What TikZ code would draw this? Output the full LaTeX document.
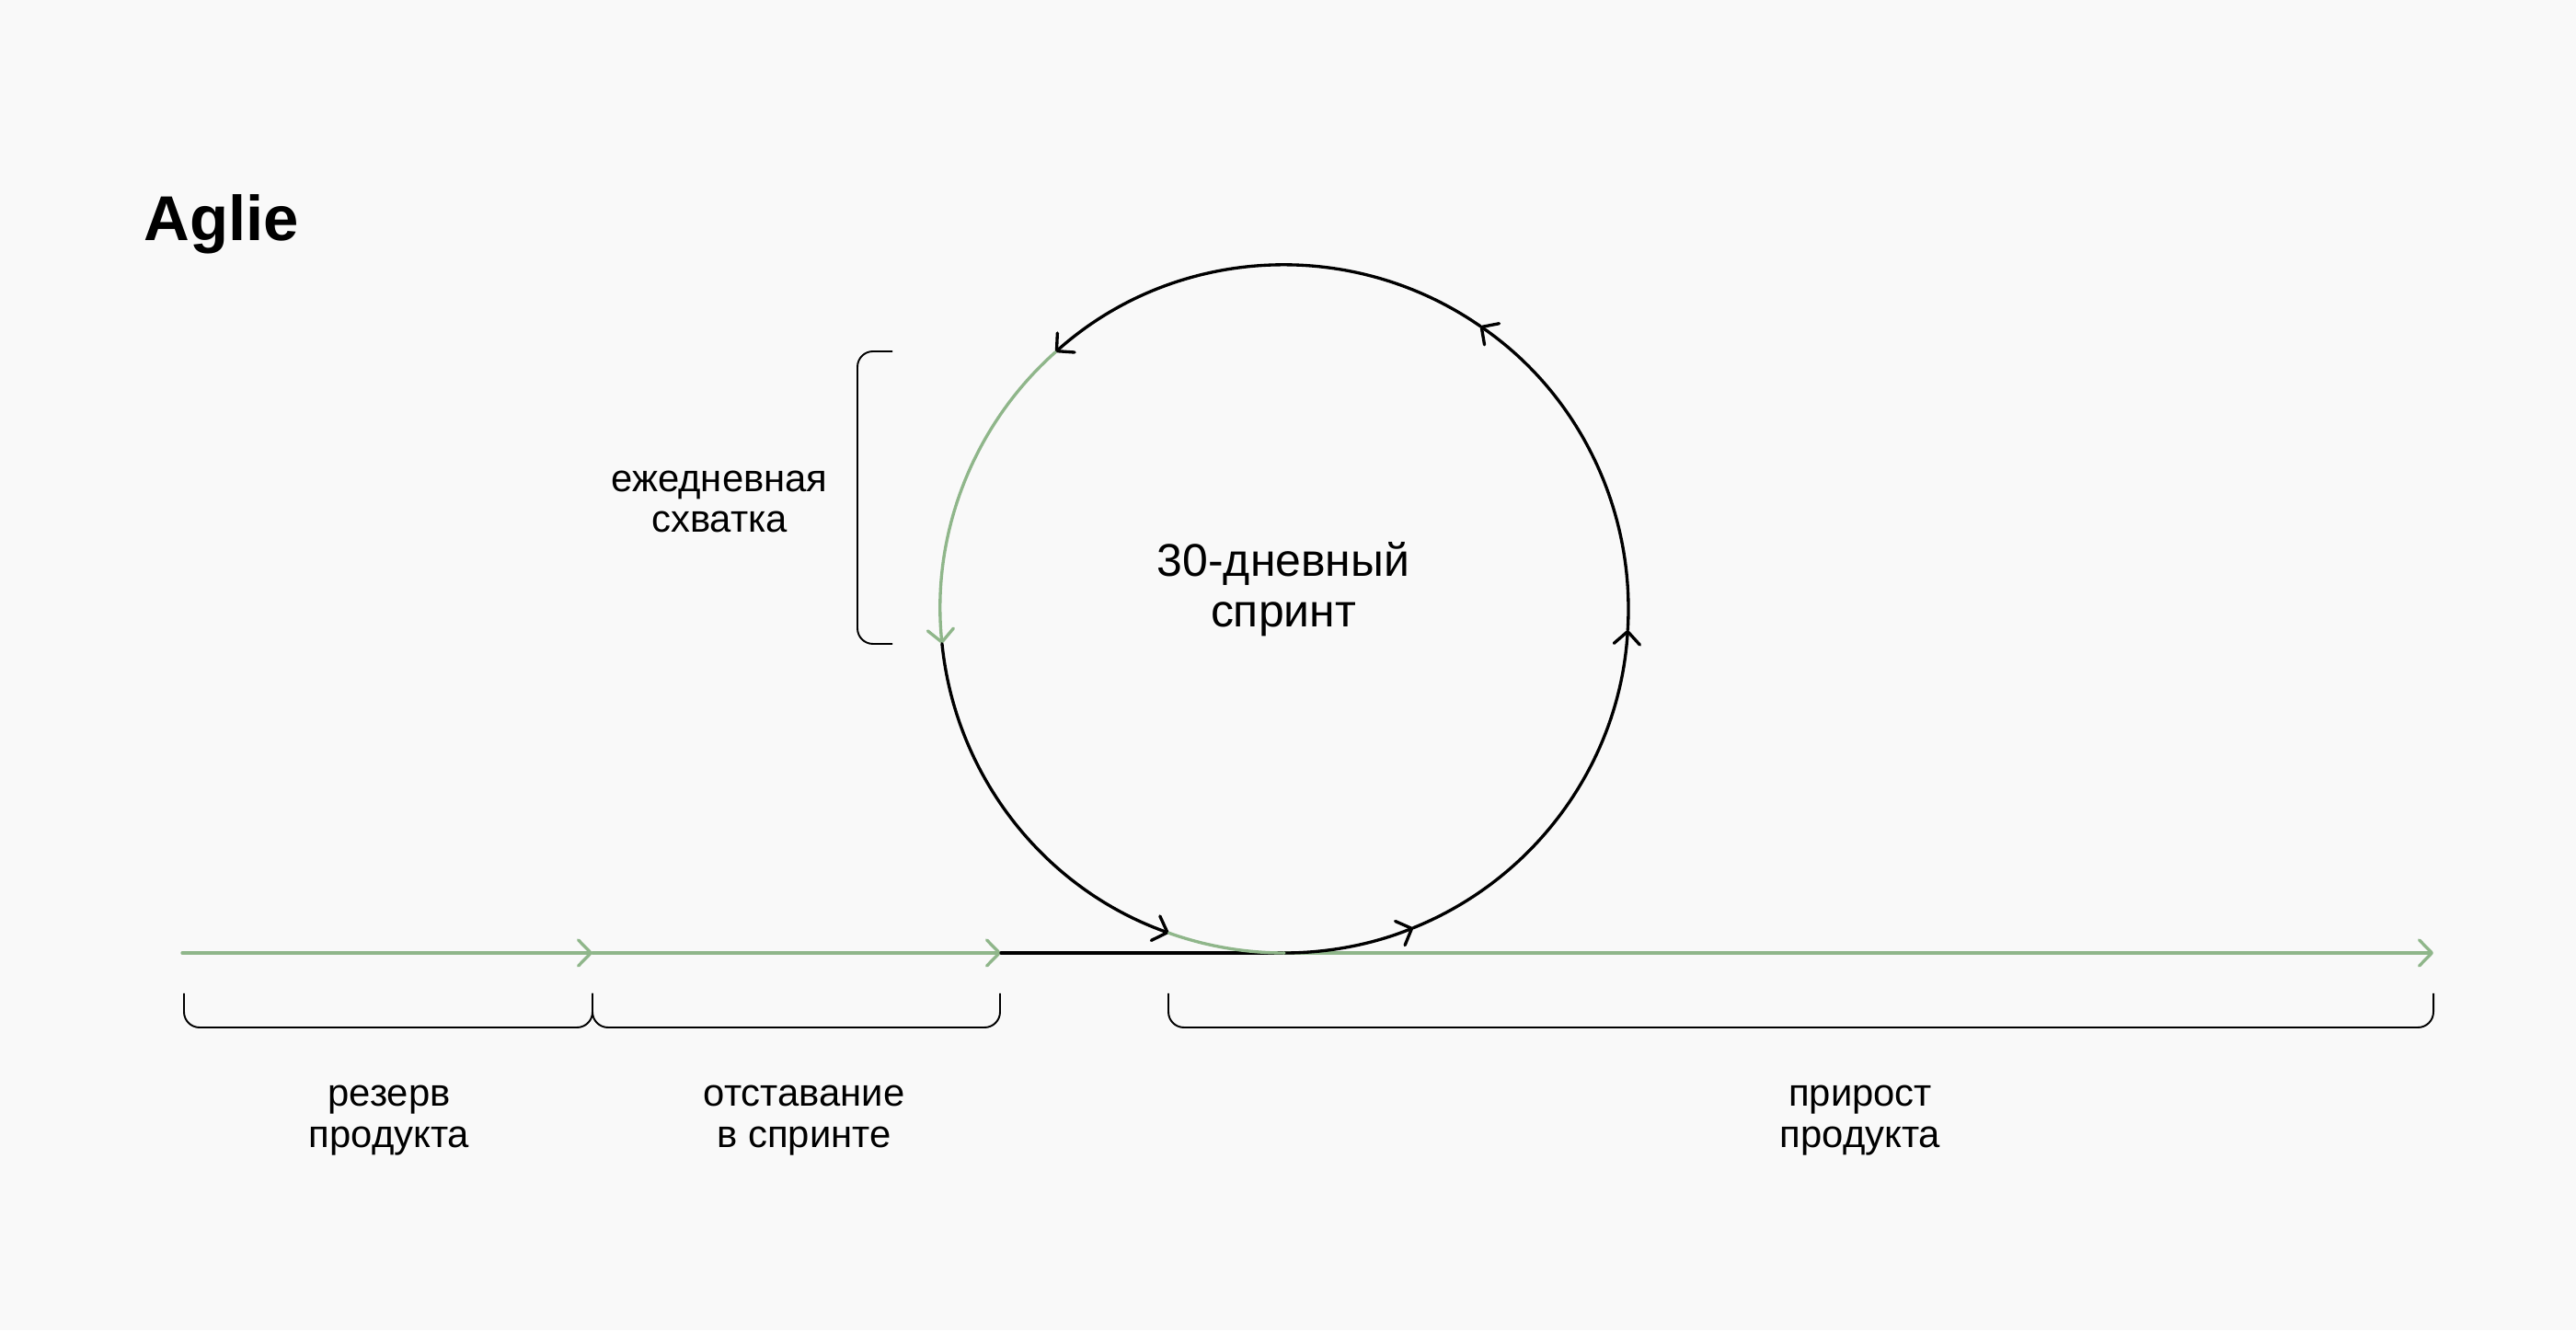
\documentclass[tikz,border=0pt]{standalone}
\usepackage{fontspec}
\setmainfont{Liberation Sans}
\usetikzlibrary{arrows.meta}

\definecolor{bg}{HTML}{F9F9F9}
\definecolor{sage}{HTML}{8FB68A}

\tikzset{
	barb/.style={-{Straight Barb[length=3.9pt, width=8pt, round]}},
	curve/.style={line width=0.95pt, line cap=round},
	brace/.style={line width=0.55pt, rounded corners=4.8pt},
	lbl/.style={align=center, font=\fontsize{11.9}{12.6}\selectfont, inner sep=0pt},
}

\def\sprintr{3.74}

\begin{document}
\begin{tikzpicture}
	\fill[bg] (0,0) rectangle (28,14.46);
	\useasboundingbox (0,0) rectangle (28,14.46);

	%% Titel
	\node[anchor=base west, inner sep=0pt, font=\fontsize{19.6}{22}\selectfont\bfseries] (title) at (1.56,11.84) {Aglie};

	%% Zeitachse
	\coordinate (start) at (1.98,4.10);
	\coordinate (backlog) at (6.44,4.10);
	\coordinate (sprintlog) at (10.88,4.10);
	\coordinate (touch) at (13.96,4.10);
	\coordinate (end) at (26.45,4.10);
	\draw[curve, sage, barb] (start) -- (backlog);
	\draw[curve, sage, barb] (backlog) -- (sprintlog);
	\draw[curve] (sprintlog) -- (touch);
	\draw[curve, sage, barb] (touch) -- (end);
	%%%%%%%%%%%%%%%%

	%% Sprint-Kreis
	\coordinate (c) at (13.96,7.84);
	\draw[curve, barb] ([shift={(270:\sprintr)}]c) arc[start angle=270, end angle=292, radius=\sprintr];
	\draw[curve, barb] ([shift={(292:\sprintr)}]c) arc[start angle=292, end angle=356.5, radius=\sprintr];
	\draw[curve, barb] ([shift={(356.5:\sprintr)}]c) arc[start angle=356.5, end angle=415.3, radius=\sprintr];
	\draw[curve, barb] ([shift={(415.3:\sprintr)}]c) arc[start angle=415.3, end angle=491.7, radius=\sprintr];
	\draw[curve, sage, barb] ([shift={(491.7:\sprintr)}]c) arc[start angle=491.7, end angle=545.8, radius=\sprintr];
	\draw[curve, barb] ([shift={(545.8:\sprintr)}]c) arc[start angle=545.8, end angle=610.4, radius=\sprintr];
	\draw[curve, sage] ([shift={(610.4:\sprintr)}]c) arc[start angle=610.4, end angle=630, radius=\sprintr];
	\node[align=center, inner sep=0pt, anchor=base, font=\fontsize{14.2}{15.7}\selectfont] (sprint) at (13.95,7.64) {30-дневный\\спринт};
	%%%%%%%%%%%%%%%%

	%% Klammern
	\draw[brace] (9.70,10.64) -- (9.32,10.64) -- (9.32,7.46) -- (9.70,7.46);
	\node[lbl, anchor=base] (scrum) at (7.82,8.67) {ежедневная\\схватка};

	\draw[brace] (2.00,3.66) -- (2.00,3.29) -- (6.44,3.29) -- (6.44,3.66);
	\draw[brace] (6.44,3.66) -- (6.44,3.29) -- (10.87,3.29) -- (10.87,3.66);
	\draw[brace] (12.70,3.66) -- (12.70,3.29) -- (26.45,3.29) -- (26.45,3.66);
	\node[lbl, anchor=base] (backlogtxt) at (4.23,1.99) {резерв\\продукта};
	\node[lbl, anchor=base] (sprintlogtxt) at (8.74,1.99) {отставание\\в спринте};
	\node[lbl, anchor=base] (increment) at (20.22,1.99) {прирост\\продукта};
\end{tikzpicture}
\end{document}
